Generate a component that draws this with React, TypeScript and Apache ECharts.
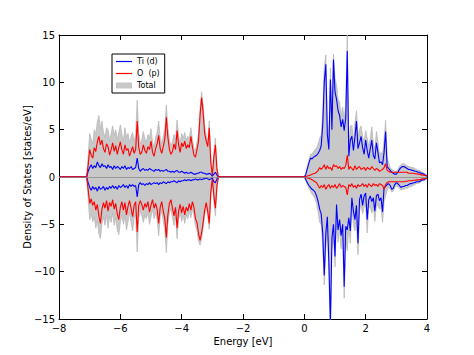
import React, { useEffect, useRef } from "react";
import * as echarts from "echarts";

// Energy grids (eV): valence band -7.10 .. -2.80, conduction band 0.00 .. 4.00, step 0.05
const vbStart = -7.1;
const cbStart = 0.0;
const gridStep = 0.05;
const vbCount = 87;
const cbCount = 81;
const energyVB = Array.from({ length: vbCount }, (_, i) => +(vbStart + i * gridStep).toFixed(2));
const energyCB = Array.from({ length: cbCount }, (_, i) => +(cbStart + i * gridStep).toFixed(2));

// Valence band values (states/eV)
const tiUpVB = [
  0, 0.6, 1.0, 1.3, 0.9, 1.2, 1.0, 1.6, 1.2, 1.0,
  1.4, 1.1, 1.2, 0.9, 1.3, 1.0, 1.1, 0.8, 1.2, 0.9,
  1.1, 1.0, 0.8, 1.1, 0.9, 1.2, 0.8, 1.0, 0.9, 1.1,
  0.8, 0.9, 1.0, 2.0, 0.9, 0.6, 0.8, 0.9, 0.7, 0.8,
  0.7, 0.9, 0.8, 0.7, 0.6, 0.8, 0.7, 0.8, 0.6, 0.7,
  0.6, 0.7, 0.8, 0.6, 0.6, 0.5, 0.6, 0.5, 0.6, 0.7,
  0.5, 0.5, 0.6, 0.5, 0.4, 0.5, 0.4, 0.4, 0.5, 0.4,
  0.3, 0.3, 0.4, 0.4, 0.5, 0.5, 0.4, 0.4, 0.3, 0.3,
  0.4, 0.3, 0.1, 0.3, 0.5, 0.2, 0,
];
const tiDownVB = [
  0, -0.6, -1.1, -1.4, -1.0, -1.3, -1.1, -1.5, -1.0, -1.3,
  -1.2, -1.0, -1.4, -1.1, -1.3, -1.0, -1.2, -0.9, -1.2, -1.0,
  -1.3, -0.9, -1.1, -1.0, -0.8, -1.1, -0.9, -1.2, -0.8, -1.0,
  -0.8, -1.0, -0.9, -2.1, -0.8, -0.6, -0.8, -0.7, -0.9, -0.7,
  -0.8, -0.6, -0.8, -0.7, -0.6, -0.7, -0.6, -0.8, -0.6, -0.7,
  -0.5, -0.6, -0.7, -0.5, -0.6, -0.5, -0.5, -0.4, -0.5, -0.6,
  -0.4, -0.5, -0.4, -0.4, -0.3, -0.4, -0.3, -0.3, -0.4, -0.3,
  -0.3, -0.2, -0.3, -0.3, -0.2, -0.3, -0.2, -0.2, -0.1, -0.2,
  -0.3, -0.2, -0.1, -0.5, -0.6, -0.2, 0,
];
const oUpVB = [
  0, 1.2, 2.9, 2.3, 2.0, 3.1, 2.7, 3.7, 4.3, 3.4,
  3.9, 3.0, 2.6, 3.5, 3.2, 2.3, 2.9, 3.6, 2.7, 3.3,
  2.4, 3.1, 3.7, 2.9, 2.4, 3.4, 2.8, 3.0, 2.2, 2.7,
  3.2, 2.5, 2.9, 5.9, 3.1, 2.4, 2.6, 3.4, 2.8, 2.5,
  3.2, 2.9, 3.8, 2.6, 2.2, 3.0, 3.5, 4.4, 3.0, 2.5,
  3.2, 4.0, 6.3, 4.2, 2.9, 2.4, 2.7, 3.5, 2.9, 4.9,
  3.4, 2.6, 3.6, 3.2, 3.8, 3.0, 3.4, 3.1, 4.3, 3.2,
  2.3, 2.1, 2.9, 3.8, 6.5, 8.4, 6.8, 4.6, 3.8, 3.2,
  5.2, 1.5, 0.2, 2.1, 3.4, 0.8, 0,
];
const oDownVB = [
  0, -1.3, -2.8, -2.3, -3.0, -2.6, -3.5, -2.9, -4.1, -4.9,
  -3.4, -2.7, -3.3, -2.5, -3.6, -2.7, -3.1, -2.4, -3.4, -2.8,
  -3.9, -4.5, -3.2, -2.6, -3.5, -2.7, -4.0, -3.1, -2.5, -3.3,
  -4.2, -3.0, -2.6, -5.8, -3.0, -2.5, -2.9, -3.5, -2.8, -3.2,
  -2.6, -3.7, -3.0, -2.4, -3.3, -2.8, -3.4, -4.9, -3.2, -2.6,
  -3.6, -4.4, -6.4, -4.0, -2.8, -2.4, -3.3, -4.1, -3.2, -5.4,
  -3.6, -2.9, -3.8, -3.1, -4.0, -3.2, -3.6, -2.8, -3.5, -2.6,
  -3.2, -4.4, -4.8, -6.0, -6.7, -5.9, -4.8, -3.5, -2.7, -3.6,
  -4.9, -1.6, -0.2, -2.0, -3.3, -0.9, 0,
];
const totalUpVB = [
  0, 2.2, 4.6, 4.0, 3.5, 5.0, 4.5, 5.8, 6.5, 5.1,
  5.9, 4.7, 4.2, 5.2, 5.0, 3.8, 4.6, 5.4, 4.4, 5.0,
  4.0, 4.7, 5.5, 4.5, 3.8, 5.2, 4.2, 4.6, 3.6, 4.3,
  4.7, 3.8, 4.4, 8.1, 4.6, 3.5, 3.9, 4.8, 4.0, 3.7,
  4.5, 4.1, 5.1, 3.7, 3.2, 4.2, 4.7, 5.9, 4.1, 3.5,
  4.3, 5.1, 7.6, 5.3, 3.9, 3.3, 3.7, 4.5, 3.9, 6.0,
  4.3, 3.5, 4.6, 4.1, 4.7, 3.9, 4.3, 4.0, 5.2, 4.0,
  3.0, 2.8, 3.7, 4.6, 7.3, 9.0, 7.6, 5.4, 4.4, 3.8,
  5.9, 2.0, 0.4, 2.6, 4.1, 1.1, 0,
];
const totalDownVB = [
  0, -2.2, -4.5, -3.9, -4.7, -4.2, -5.4, -4.6, -6.0, -6.5,
  -5.0, -4.2, -5.1, -4.0, -5.4, -4.1, -4.8, -3.8, -5.1, -4.3,
  -5.6, -6.1, -4.8, -4.0, -5.0, -4.1, -5.6, -4.7, -3.7, -4.8,
  -5.7, -4.4, -3.9, -7.9, -4.3, -3.6, -4.1, -4.8, -4.0, -4.4,
  -3.7, -5.0, -4.2, -3.4, -4.4, -3.8, -4.5, -6.2, -4.2, -3.6,
  -4.7, -5.5, -8.0, -5.1, -3.8, -3.3, -4.3, -5.1, -4.1, -6.5,
  -4.5, -3.8, -4.7, -4.0, -4.9, -4.0, -4.4, -3.6, -4.3, -3.4,
  -4.0, -5.2, -5.6, -6.8, -7.2, -6.5, -5.4, -4.0, -3.2, -4.1,
  -5.5, -2.0, -0.4, -2.6, -4.1, -1.2, 0,
];

// Conduction band values (states/eV)
const tiUpCB = [
  0, 0.3, 0.9, 1.5, 2.0, 1.9, 2.1, 2.2, 2.3, 2.5,
  2.8, 3.3, 5.5, 10.0, 11.9, 4.5, 2.9, 10.3, 5.0, 12.4,
  9.0, 8.2, 7.0, 6.5, 5.3, 6.1, 4.9, 6.2, 13.3, 2.2,
  3.9, 4.3, 2.8, 4.2, 5.9, 3.0, 3.6, 4.3, 3.1, 2.4,
  3.9, 2.8, 2.0, 3.0, 3.9, 2.3, 1.9, 3.6, 2.6, 1.5,
  1.6, 1.3, 2.6, 4.8, 1.1, 0.9, 0.7, 0.5, 0.4, 0.3,
  0.3, 0.5, 0.8, 1.0, 1.1, 1.1, 1.0, 0.9, 0.8, 0.8,
  0.7, 0.7, 0.6, 0.6, 0.5, 0.5, 0.4, 0.4, 0.3, 0.2,
  0.1,
];
const tiDownCB = [
  0, -0.3, -0.6, -0.9, -1.1, -1.3, -1.4, -1.6, -2.0, -2.6,
  -3.4, -3.9, -6.0, -10.4, -6.0, -4.2, -9.0, -15.5, -6.5, -5.0,
  -8.4, -2.9, -5.6, -4.5, -6.2, -5.0, -11.6, -5.2, -5.6, -4.3,
  -5.7, -2.2, -3.6, -4.5, -3.0, -7.0, -2.4, -1.8, -3.0, -2.0,
  -1.7, -4.5, -2.4, -2.0, -2.6, -2.2, -3.6, -2.0, -1.8, -2.5,
  -2.2, -3.7, -1.1, -1.0, -0.8, -0.7, -0.9, -1.3, -1.2, -0.8,
  -0.6, -0.7, -0.9, -1.1, -1.0, -1.0, -0.9, -0.9, -0.8, -0.7,
  -0.7, -0.6, -0.6, -0.5, -0.5, -0.5, -0.4, -0.3, -0.3, -0.2,
  -0.1,
];
const oUpCB = [
  0, 0.05, 0.1, 0.15, 0.2, 0.3, 0.35, 0.4, 0.5, 0.7,
  1.0, 0.8, 1.0, 1.3, 0.8, 1.2, 0.9, 1.0, 0.7, 1.3,
  1.1, 1.2, 0.9, 1.1, 0.8, 1.0, 0.9, 1.2, 2.3, 0.8,
  1.1, 0.9, 0.7, 1.2, 0.8, 1.0, 1.1, 0.8, 0.9, 1.0,
  0.7, 1.0, 0.9, 0.8, 1.1, 0.9, 0.7, 0.9, 0.8, 0.6,
  0.7, 0.8, 1.0, 1.4, 0.7, 0.6, 0.5, 0.5, 0.5, 0.5,
  0.5, 0.5, 0.5, 0.5, 0.5, 0.5, 0.5, 0.5, 0.4, 0.4,
  0.4, 0.4, 0.35, 0.35, 0.3, 0.3, 0.25, 0.2, 0.2, 0.15,
  0.1,
];
const oDownCB = [
  0, -0.05, -0.1, -0.15, -0.2, -0.3, -0.4, -0.5, -0.6, -0.9,
  -1.2, -0.9, -1.1, -0.8, -1.3, -1.0, -0.8, -1.2, -0.9, -1.1,
  -0.8, -1.2, -1.0, -0.7, -1.1, -0.9, -1.0, -1.1, -1.9, -0.8,
  -1.0, -0.7, -1.1, -0.9, -1.2, -0.8, -1.0, -0.9, -0.7, -1.0,
  -0.8, -1.1, -0.7, -0.9, -1.0, -0.7, -0.9, -0.8, -1.0, -0.7,
  -0.8, -0.9, -1.3, -0.8, -0.6, -0.5, -0.5, -0.5, -0.5, -0.5,
  -0.5, -0.5, -0.5, -0.5, -0.5, -0.5, -0.45, -0.45, -0.4, -0.4,
  -0.4, -0.35, -0.35, -0.3, -0.3, -0.3, -0.25, -0.2, -0.2, -0.15,
  -0.1,
];
const totalUpCB = [
  0, 0.4, 1.1, 1.8, 2.4, 2.4, 2.7, 2.9, 3.1, 3.5,
  4.1, 4.4, 6.8, 11.6, 12.9, 5.8, 4.2, 11.5, 6.0, 13.0,
  10.4, 9.7, 8.2, 7.9, 6.4, 7.4, 6.1, 7.6, 15.0, 3.3,
  5.3, 5.5, 3.8, 5.7, 7.0, 4.3, 5.0, 5.4, 4.3, 3.7,
  4.9, 4.1, 3.2, 4.1, 5.3, 3.5, 2.9, 4.8, 3.7, 2.4,
  2.6, 2.4, 3.9, 6.0, 2.1, 1.5, 1.0, 0.8, 0.7, 0.6,
  0.6, 0.8, 1.1, 1.3, 1.4, 1.4, 1.3, 1.2, 1.1, 1.1,
  1.0, 1.0, 0.9, 0.8, 0.7, 0.7, 0.6, 0.5, 0.4, 0.3,
  0.2,
];
const totalDownCB = [
  0, -0.4, -0.8, -1.2, -1.5, -1.8, -2.0, -2.3, -2.8, -3.7,
  -4.8, -5.0, -7.3, -11.4, -7.6, -5.5, -10.0, -16.5, -7.6, -6.3,
  -9.5, -4.4, -6.9, -5.5, -7.6, -6.1, -12.8, -6.5, -7.8, -5.3,
  -7.0, -3.1, -5.0, -5.7, -4.5, -8.2, -3.6, -2.9, -3.9, -3.2,
  -2.7, -5.9, -3.3, -3.1, -3.8, -3.1, -4.7, -3.0, -3.0, -3.4,
  -3.2, -4.8, -2.6, -2.0, -1.4, -1.1, -1.2, -1.6, -1.5, -1.1,
  -0.9, -1.0, -1.2, -1.4, -1.3, -1.3, -1.2, -1.2, -1.1, -1.0,
  -1.0, -0.9, -0.8, -0.7, -0.7, -0.6, -0.5, -0.4, -0.4, -0.3,
  -0.2,
];

// Axis settings
const xMin = -8;
const xMax = 4;
const xStep = 2;
const yMin = -15;
const yMax = 15;
const yStep = 5;

const seriesNames = { ti: "Ti (d)", o: "O  (p)", total: "Total" };

const FONT = "DejaVu Sans";
const BLUE = "#0000ff";
const RED = "#ff0000";
const GRAY = "#c8c8c8";
const LINE_ICON = "path://M0,0 L40,0 L40,3 L0,3 Z";

function toPoints(vb: number[], cb: number[]) {
  return [
    [xMin, 0],
    ...energyVB.map((e, i) => [e, vb[i]]),
    ...energyCB.map((e, i) => [e, cb[i]]),
  ];
}

const minusFmt = (v: number) => String(v).replace("-", "\u2212");

export default function App() {
  const ref = useRef<HTMLDivElement>(null);

  useEffect(() => {
    if (!ref.current) return;
    const chart = echarts.init(ref.current, null, { renderer: "svg" });

    const tickStyle = { show: true, inside: true, length: 5, lineStyle: { color: "#000", width: 1 } };
    const lineAxis = { show: true, onZero: false, lineStyle: { color: "#000", width: 1 } };

    const totalSeries = (data: number[][], withZero: boolean) => ({
      type: "line",
      name: seriesNames.total,
      data,
      symbol: "none",
      showSymbol: false,
      z: 1,
      itemStyle: { color: GRAY },
      lineStyle: { color: "#b9b9b9", width: 0.8 },
      areaStyle: { color: GRAY, opacity: 1 },
      markLine: withZero
        ? {
            silent: true,
            symbol: ["none", "none"],
            label: { show: false },
            lineStyle: { color: "#8c8c8c", width: 0.8, type: "solid" },
            data: [{ yAxis: 0 }],
          }
        : undefined,
    });

    const lineSeries = (name: string, data: number[][], color: string, z: number) => ({
      type: "line",
      name,
      data,
      symbol: "none",
      showSymbol: false,
      z,
      itemStyle: { color },
      lineStyle: { color, width: 1.1 },
    });

    chart.setOption({
      animation: false,
      backgroundColor: "#ffffff",
      textStyle: { fontFamily: FONT },
      grid: { left: 59, right: 47, top: 35, bottom: 36, containLabel: false },
      legend: {
        left: 112,
        top: 54,
        orient: "vertical",
        selectedMode: false,
        borderColor: "#000",
        borderWidth: 1,
        padding: [3, 5, 3, 4],
        itemGap: 3,
        itemWidth: 16,
        itemHeight: 6,
        textStyle: { fontSize: 8, color: "#000", fontFamily: FONT, lineHeight: 9 },
        data: [
          { name: seriesNames.ti, icon: LINE_ICON },
          { name: seriesNames.o, icon: LINE_ICON },
          { name: seriesNames.total, icon: "rect" },
        ],
      },
      xAxis: [
        {
          type: "value",
          min: xMin,
          max: xMax,
          interval: xStep,
          position: "bottom",
          name: "Energy [eV]",
          nameLocation: "middle",
          nameGap: 17,
          nameMoveOverlap: false,
          nameTextStyle: { fontSize: 10, color: "#000", fontFamily: FONT },
          axisLine: lineAxis,
          axisTick: tickStyle,
          axisLabel: { fontSize: 10, color: "#000", margin: 4, fontFamily: FONT, formatter: minusFmt },
          splitLine: { show: false },
        },
        {
          type: "value",
          min: xMin,
          max: xMax,
          interval: xStep,
          position: "top",
          axisLine: lineAxis,
          axisTick: tickStyle,
          axisLabel: { show: false },
          splitLine: { show: false },
        },
      ],
      yAxis: [
        {
          type: "value",
          min: yMin,
          max: yMax,
          interval: yStep,
          position: "left",
          name: "Density of States [states/eV]",
          nameLocation: "middle",
          nameGap: 27,
          nameMoveOverlap: false,
          nameTextStyle: { fontSize: 10, color: "#000", fontFamily: FONT },
          axisLine: lineAxis,
          axisTick: tickStyle,
          axisLabel: { fontSize: 10, color: "#000", margin: 4, fontFamily: FONT, formatter: minusFmt },
          splitLine: { show: false },
        },
        {
          type: "value",
          min: yMin,
          max: yMax,
          interval: yStep,
          position: "right",
          axisLine: lineAxis,
          axisTick: tickStyle,
          axisLabel: { show: false },
          splitLine: { show: false },
        },
      ],
      series: [
        totalSeries(toPoints(totalUpVB, totalUpCB), true),
        totalSeries(toPoints(totalDownVB, totalDownCB), false),
        lineSeries(seriesNames.ti, toPoints(tiUpVB, tiUpCB), BLUE, 3),
        lineSeries(seriesNames.ti, toPoints(tiDownVB, tiDownCB), BLUE, 3),
        lineSeries(seriesNames.o, toPoints(oUpVB, oUpCB), RED, 4),
        lineSeries(seriesNames.o, toPoints(oDownVB, oDownCB), RED, 4),
      ],
    });

    return () => chart.dispose();
  }, []);

  return (
    <div
      ref={ref}
      style={{ position: "fixed", left: 0, top: 0, width: 474, height: 355, background: "#fff" }}
    />
  );
}
